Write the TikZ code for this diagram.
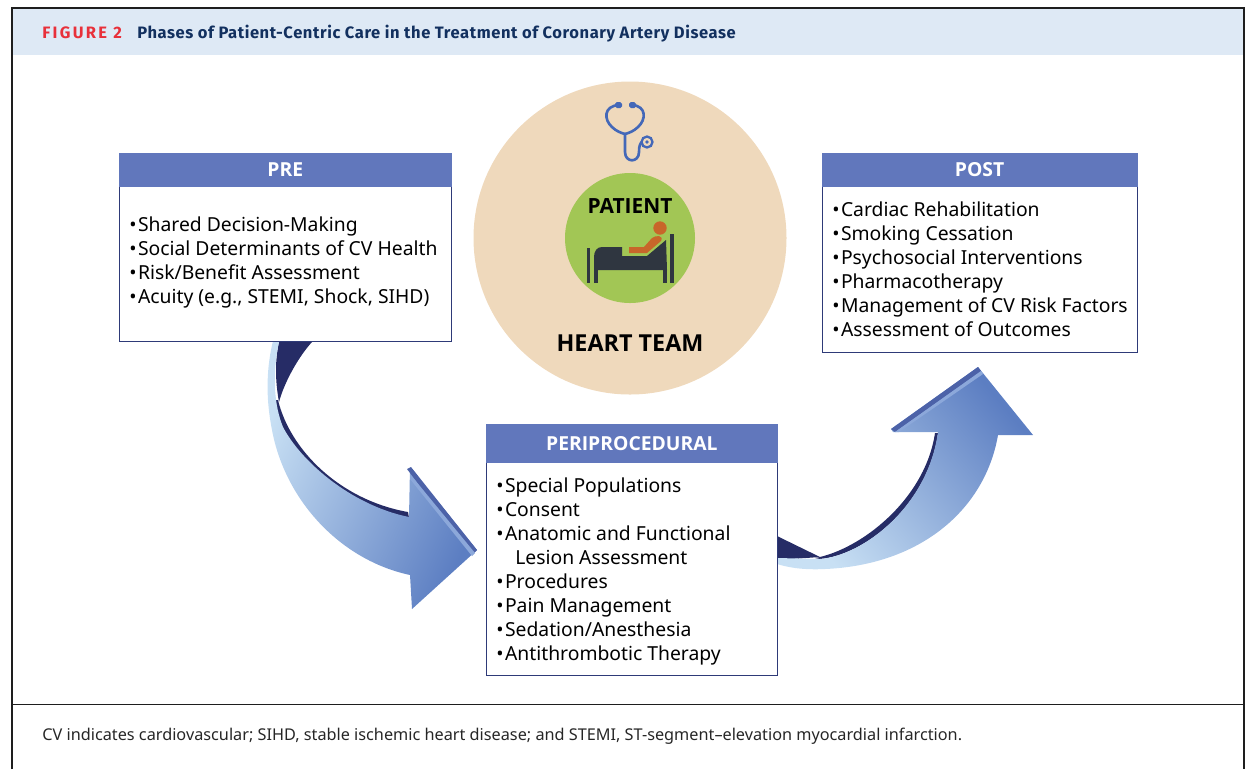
\documentclass[tikz,border=0pt]{standalone}
\usepackage{fontspec}
\setmainfont{Noto Sans}
\newfontfamily\headfont{Fira Sans}
\newfontfamily\boxfont{Open Sans}
\def\bul{•\kern0.8pt}
\definecolor{framec}{HTML}{1E1E1E}
\definecolor{bandc}{HTML}{DEE9F5}
\definecolor{titlec}{HTML}{12305F}
\definecolor{redc}{HTML}{E8303A}
\definecolor{headc}{HTML}{6177BC}
\definecolor{edgec}{HTML}{2E3A78}
\definecolor{tanc}{HTML}{EFD9BC}
\definecolor{greenc}{HTML}{A2C655}
\definecolor{bedc}{HTML}{2F3640}
\definecolor{orangec}{HTML}{C8662A}
\definecolor{scopec}{HTML}{4468B8}
\definecolor{darkc}{HTML}{262C66}
\definecolor{lightc}{HTML}{C8E0F4}
\definecolor{midc}{HTML}{5C7EC2}
\definecolor{stripc}{HTML}{4C62A8}
\definecolor{shinec}{HTML}{8CA8DA}
\tikzset{
	headbox/.style={fill=headc, draw=headc, text=white, font=\boxfont\fontsize{11}{11}\selectfont\bfseries, inner sep=0pt, minimum height=33*0.02cm},
	listbox/.style={draw=edgec, line width=0.5pt, fill=white, inner sep=0pt, anchor=north west},
	listtext/.style={font=\fontsize{11}{13.68}\selectfont, align=left, anchor=north west, inner sep=0pt},
}
\begin{document}
\begin{tikzpicture}[x=0.02cm, y=-0.02cm]
			\useasboundingbox (0, 0) rectangle (1247, 769);
			
			% frame
			\fill[bandc] (12, 8) rectangle (1244, 55);
			\draw[framec, line width=0.7pt] (12, 769) -- (12, 8) -- (1244, 8) -- (1244, 769);
			\draw[framec, line width=0.7pt] (12, 704.5) -- (1244, 704.5);
			\node[anchor=base west, inner sep=0pt, text=redc, font=\headfont\fontsize{9.4}{9.4}\selectfont\bfseries\addfontfeatures{LetterSpace=14}] (figlabel) at (42, 38.5) {FIGURE 2};
			\node[anchor=base west, inner sep=0pt, text=titlec, font=\headfont\fontsize{9.4}{9.4}\selectfont\bfseries\addfontfeatures{LetterSpace=3.6}] (figtitle) at (137, 38.5) {Phases of Patient-Centric Care in the Treatment of Coronary Artery Disease};
			\node[anchor=base west, inner sep=0pt, text=black!85, font=\fontsize{9.25}{9.25}\selectfont] (footnote) at (42, 740) {CV indicates cardiovascular; SIHD, stable ischemic heart disease; and STEMI, ST-segment–elevation myocardial infarction.};
			
			% center
			\fill[tanc] (630, 238) circle (156.5);
			\fill[greenc] (630, 238) circle (65);
			\node[font=\boxfont\fontsize{11.9}{11.9}\selectfont\bfseries] (patient) at (630, 206) {PATIENT};
			\node[font=\boxfont\fontsize{13.3}{13.3}\selectfont\bfseries] (team) at (630, 343) {HEART TEAM};
			
			% stethoscope
			\draw[scopec, line width=1.5pt, line cap=round] (619, 105) .. controls (603, 106) and (604, 120) .. (612, 127) .. controls (616, 131) and (621, 133) .. (625, 134) -- (625, 152) .. controls (625, 163) and (639, 163) .. (639, 152) .. controls (639, 146) and (640, 143) .. (643, 141);
			\draw[scopec, line width=1.5pt, line cap=round] (632, 105) .. controls (647, 106) and (646, 120) .. (638, 127) .. controls (634, 131) and (629, 133) .. (625, 134);
			\fill[scopec, rounded corners=1pt] (615, 102) rectangle (622, 108);
			\fill[scopec, rounded corners=1pt] (629, 102) rectangle (636, 108);
			\draw[scopec, line width=1.3pt, fill=tanc] (647, 142) circle (5.5);
			\fill[scopec] (647, 142) circle (1.8);
			
			% bed
			\fill[bedc] (587, 248) rectangle (590, 283);
			\fill[bedc] (670, 234) rectangle (674, 283);
			\fill[bedc] (594, 270) -- (594, 257) .. controls (594, 251) and (597, 247) .. (602, 247) -- (622, 247) -- (622, 256) -- (647, 256) -- (666, 240) -- (667, 270) -- cycle;
			\fill[bedc] (594, 265) rectangle (598, 283);
			\fill[bedc] (663, 265) rectangle (667, 283);
			\fill[orangec] (660, 228) circle (6.7);
			\fill[orangec] (629, 247) -- (644, 247) -- (652, 238) .. controls (656, 235) and (664, 235) .. (661, 241) -- (647, 253) -- (629, 253) -- cycle;
			
			% left arrow
			\fill[darkc] (279, 342) -- (312, 342) .. controls (300, 355) and (285, 380) .. (279, 402) .. controls (275, 380) and (275, 360) .. (279, 342) -- cycle;
			\fill[darkc] (278, 400) .. controls (290, 450) and (340, 500) .. (408, 512) -- (409, 518) .. controls (340, 510) and (272, 450) .. (276, 400) -- cycle;
			\shade[left color=lightc, right color=midc, shading angle=65] (273, 341) .. controls (267, 365) and (265, 395) .. (272, 430) .. controls (285, 500) and (340, 560) .. (410, 575) -- (412, 609) -- (477, 550) -- (410, 467) -- (409, 517) .. controls (350, 505) and (300, 460) .. (283, 427) .. controls (274, 405) and (272, 375) .. (279, 342) -- cycle;
			\fill[stripc] (407, 469) -- (411, 467) -- (477, 550) -- (472, 555) -- cycle;
			\fill[shinec] (410, 474) -- (475, 553) -- (472, 556) -- (410, 479) -- cycle;
			
			% right arrow
			\fill[darkc] (777, 536) -- (820, 557) -- (777, 560) -- cycle;
			\fill[darkc] (815, 558) .. controls (860, 550) and (925, 500) .. (935, 433) -- (938, 433) .. controls (928, 505) and (865, 555) .. (820, 559) -- cycle;
			\shade[left color=lightc, right color=midc, shading angle=130] (777, 558) -- (820, 559) .. controls (865, 555) and (928, 505) .. (938, 432) -- (893, 432) -- (891, 429) -- (978, 367) -- (1033, 435) -- (998, 435) .. controls (985, 510) and (920, 565) .. (825, 569) .. controls (805, 570) and (790, 568) .. (777, 564) -- cycle;
			\fill[stripc] (891, 429) -- (978, 367) -- (981, 371) -- (895, 432) -- cycle;
			\fill[shinec] (895, 432) -- (981, 371) -- (983, 374) -- (899, 432) -- cycle;
			
			% boxes
			\node[listbox, minimum width=332*0.02cm, minimum height=188*0.02cm] (prebox) at (119, 153) {};
			\node[headbox, minimum width=332*0.02cm, anchor=north west] (prehead) at (119, 153) {PRE};
			\node[listtext] (pretext) at (129, 216) {\bul Shared Decision-Making\\\bul Social Determinants of CV Health\\\bul Risk/Benefit Assessment\\\bul Acuity (e.g., STEMI, Shock, SIHD)};
			
			\node[listbox, minimum width=314.5*0.02cm, minimum height=199*0.02cm] (postbox) at (822, 153) {};
			\node[headbox, minimum width=314.5*0.02cm, anchor=north west] (posthead) at (822, 153) {POST};
			\node[listtext] (posttext) at (832, 201) {\bul Cardiac Rehabilitation\\\bul Smoking Cessation\\\bul Psychosocial Interventions\\\bul Pharmacotherapy\\\bul Management of CV Risk Factors\\\bul Assessment of Outcomes};
			
			\node[listbox, minimum width=291*0.02cm, minimum height=251*0.02cm] (peribox) at (486, 424) {};
			\node[headbox, minimum width=291*0.02cm, minimum height=38*0.02cm, anchor=north west] (perihead) at (486, 424) {PERIPROCEDURAL};
			\node[listtext] (peritext) at (496, 477) {\bul Special Populations\\\bul Consent\\\bul Anatomic and Functional\\\hspace*{10.8pt}Lesion Assessment\\\bul Procedures\\\bul Pain Management\\\bul Sedation/Anesthesia\\\bul Antithrombotic Therapy};
		\end{tikzpicture}
\end{document}
